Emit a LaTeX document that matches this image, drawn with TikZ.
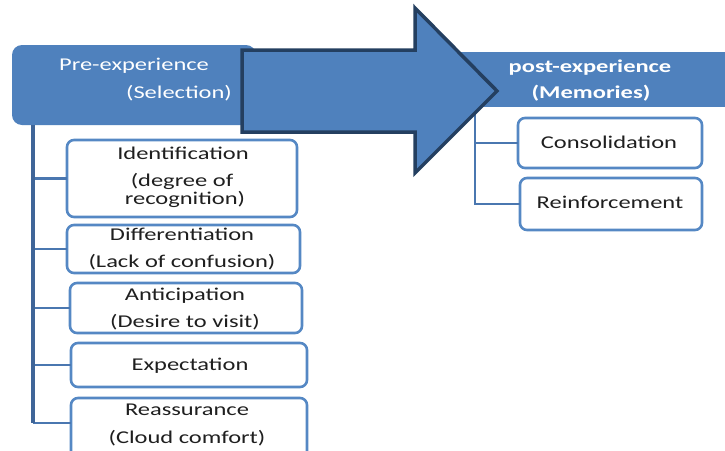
\documentclass[tikz,border=0pt]{standalone}
\usepackage{fontspec}
\setmainfont[FakeStretch=1.36]{Carlito}
\definecolor{mainblue}{HTML}{4F81BD}
\definecolor{navy}{HTML}{243F60}
\definecolor{spine}{HTML}{3F6598}
\definecolor{twig}{HTML}{4A77B0}
\definecolor{boxline}{HTML}{5588C4}
\tikzset{
  headbox/.style={fill=mainblue, draw=none},
  childbox/.style={draw=boxline, line width=2.6pt, fill=white, rounded corners=7pt},
  spineline/.style={draw=spine, line width=4pt},
  twigline/.style={draw=twig, line width=2.4pt},
  txt/.style={anchor=base, inner sep=0pt, font=\fontsize{18}{18}\selectfont, text=black!88},
  headtxt/.style={anchor=base, inner sep=0pt, font=\fontsize{18}{18}\selectfont, text=white},
  bigarrow/.style={fill=mainblue, draw=navy, line width=3.5pt, line join=miter}
}
\begin{document}
\begin{tikzpicture}[x=1pt,y=-1pt]
\useasboundingbox (0,0) rectangle (725,450);
\clip (0,0) rectangle (725,450);
\fill[white] (0,0) rectangle (725,450);

% header boxes
\path[headbox, rounded corners=10pt] (12,45) rectangle (256,125);
\node[minimum width=244pt, minimum height=80pt, inner sep=0pt] (pre) at (134,85) {};
\path[headbox] (440,52) rectangle (730,107);
\node[minimum width=290pt, minimum height=55pt, inner sep=0pt] (post) at (585,79.5) {};

% child boxes
\draw[childbox] (67,140) rectangle (297,217);
\node[minimum width=230pt, minimum height=77pt, inner sep=0pt] (ident) at (182,178.5) {};
\draw[childbox] (67,225) rectangle (300,273);
\node[minimum width=233pt, minimum height=48pt, inner sep=0pt] (diff) at (183.5,249) {};
\draw[childbox] (70,283) rectangle (302,333);
\node[minimum width=232pt, minimum height=50pt, inner sep=0pt] (antic) at (186,308) {};
\draw[childbox] (71,343) rectangle (307,387);
\node[minimum width=236pt, minimum height=44pt, inner sep=0pt] (expect) at (189,365) {};
\draw[childbox] (71,398) rectangle (307,470);
\node[minimum width=236pt, minimum height=50pt, inner sep=0pt] (reass) at (189,423) {};

\draw[childbox] (518,118) rectangle (702,168);
\node[minimum width=184pt, minimum height=50pt, inner sep=0pt] (consol) at (610,143) {};
\draw[childbox] (520,178) rectangle (702,230);
\node[minimum width=182pt, minimum height=52pt, inner sep=0pt] (reinf) at (611,204) {};

% connectors
\coordinate (pv) at (33,125);
\coordinate (qv) at (475,107);
\draw[twigline] (pv |- ident.west) -- (ident.west);
\draw[twigline] (pv |- diff.west) -- (diff.west);
\draw[twigline] (pv |- antic.west) -- (antic.west);
\draw[twigline] (pv |- expect.west) -- (expect.west);
\draw[twigline] (pv |- reass.west) -- (reass.west);
\draw[spineline] (pv) -- (pv |- reass.west);
\draw[twigline] (qv |- consol.west) -- (consol.west);
\draw[twigline] (qv) |- (reinf.west);

% big arrow
\draw[bigarrow] (242,50) -- (415,50) -- (415,8) -- (497,91) -- (415,173) -- (415,132) -- (242,132) -- cycle;

% header texts
\node[headtxt] (pre1) at (134,70) {Pre-experience};
\node[headtxt] (pre2) at (179,98) {(Selection)};
\node[headtxt, font=\fontsize{18}{18}\selectfont\bfseries] (post1) at (590,72) {post-experience};
\node[headtxt, font=\fontsize{18}{18}\selectfont\bfseries] (post2) at (591,98) {(Memories)};

% child texts
\node[txt] (t1) at (183,159) {Identification};
\node[txt] (t2) at (182,186) {(degree of};
\node[txt] (t3) at (185,204) {recognition)};
\node[txt] (t4) at (182,240) {Differentiation};
\node[txt] (t5) at (182,267) {(Lack of confusion)};
\node[txt] (t6) at (185,300) {Anticipation};
\node[txt] (t7) at (185,327) {(Desire to visit)};
\node[txt] (t8) at (190,370) {Expectation};
\node[txt] (t9) at (187,415) {Reassurance};
\node[txt] (t10) at (187,443) {(Cloud comfort)};
\node[txt] (t11) at (609,148) {Consolidation};
\node[txt] (t12) at (610,208) {Reinforcement};
\end{tikzpicture}
\end{document}
